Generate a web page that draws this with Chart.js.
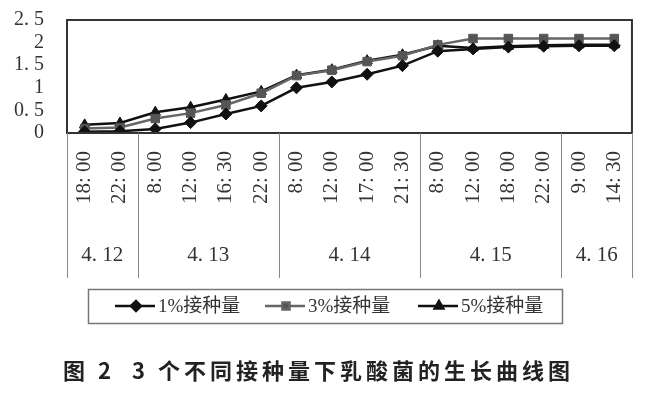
<!DOCTYPE html>
<html>
<head>
<meta charset="utf-8">
<script src="https://cdn.jsdelivr.net/npm/chart.js@4/dist/chart.umd.min.js"></script>
<style>
  html, body { margin: 0; padding: 0; background: #fff; }
  #wrap { width: 650px; height: 396px; }
</style>
</head>
<body>
<div id="wrap"><canvas id="chart" width="650" height="396"></canvas></div>
<script>
const categories = ['18: 00', '22: 00', '8: 00', '12: 00', '16: 30', '22: 00', '8: 00', '12: 00',
  '17: 00', '21: 30', '8: 00', '12: 00', '18: 00', '22: 00', '9: 00', '14: 30'];
const dates = ['4. 12', '4. 13', '4. 14', '4. 15', '4. 16'];
const dateSpans = [2, 4, 4, 4, 2];
const yTicks = [0, 0.5, 1, 1.5, 2, 2.5];

const inoc1 = [0.03, 0.04, 0.09, 0.23, 0.42, 0.6, 1.0, 1.13, 1.3, 1.49, 1.81, 1.86, 1.9, 1.92, 1.93, 1.93];
const inoc3 = [0.1, 0.12, 0.32, 0.44, 0.62, 0.88, 1.27, 1.39, 1.58, 1.71, 1.95, 2.09, 2.09, 2.09, 2.09, 2.09];
const inoc5 = [0.18, 0.22, 0.46, 0.57, 0.74, 0.92, 1.28, 1.4, 1.6, 1.73, 1.93, 1.88, 1.92, 1.94, 1.95, 1.95];

const serif = '"Liberation Serif", "Noto Sans CJK SC", serif';

const frame = {
  id: 'frame',
  afterDraw(chart) {
    const ctx = chart.ctx;
    const a = chart.chartArea;
    const x = chart.scales.x;
    ctx.save();

    // plot box
    ctx.strokeStyle = '#333';
    ctx.lineWidth = 2;
    ctx.strokeRect(a.left, a.top, a.right - a.left, a.bottom - a.top);

    // group separators and date labels under the axis
    const bottom = x.bottom;
    const step = (a.right - a.left) / categories.length;
    ctx.strokeStyle = '#888';
    ctx.lineWidth = 1;
    ctx.fillStyle = '#333';
    ctx.font = '21px ' + serif;
    ctx.textAlign = 'center';
    ctx.textBaseline = 'middle';
    let idx = 0;
    const edges = [0];
    dateSpans.forEach((n, i) => {
      const x0 = x.getPixelForValue(idx) - step / 2;
      const x1 = x.getPixelForValue(idx + n - 1) + step / 2;
      ctx.fillText(dates[i], (x0 + x1) / 2, 255);
      idx += n;
      edges.push(idx);
    });
    edges.forEach(k => {
      const px = Math.round(a.left + k * step) + 0.5;
      ctx.beginPath();
      ctx.moveTo(px, a.bottom);
      ctx.lineTo(px, bottom);
      ctx.stroke();
    });

    // legend
    ctx.strokeStyle = '#777';
    ctx.lineWidth = 1.5;
    ctx.strokeRect(88.5, 289.5, 474, 34);
    const items = [
      { x: 115, ds: chart.data.datasets[0] },
      { x: 265, ds: chart.data.datasets[1] },
      { x: 418, ds: chart.data.datasets[2] }
    ];
    const ly = 306;
    items.forEach(it => {
      const ds = it.ds;
      ctx.strokeStyle = ds.borderColor;
      ctx.lineWidth = 2.5;
      ctx.beginPath();
      ctx.moveTo(it.x, ly);
      ctx.lineTo(it.x + 40, ly);
      ctx.stroke();
      ctx.fillStyle = ds.pointBackgroundColor;
      Chart.helpers.drawPoint(ctx, {
        pointStyle: ds.pointStyle, radius: 5, borderWidth: 1, rotation: 0
      }, it.x + 21, ly);
      ctx.fillStyle = '#333';
      ctx.textAlign = 'left';
      ctx.font = '19px ' + serif;
      ctx.fillText(ds.label, it.x + 43, ly + 1);
    });

    // caption
    ctx.fillStyle = '#222';
    ctx.font = 'bold 22px "Noto Sans CJK SC", sans-serif';
    ctx.textAlign = 'left';
    ctx.letterSpacing = '4px';
    ctx.fillText('图 2', 63, 371);
    ctx.fillText('3 个不同接种量下乳酸菌的生长曲线图', 132, 371);
    ctx.restore();
  }
};

function line(label, data, color, pointColor, style) {
  return {
    label: label,
    data: data,
    borderColor: color,
    backgroundColor: pointColor,
    borderWidth: 2.5,
    pointStyle: style,
    pointRadius: 6,
    pointBorderWidth: 1,
    pointBorderColor: pointColor,
    pointBackgroundColor: pointColor,
    tension: 0
  };
}

new Chart(document.getElementById('chart'), {
  type: 'line',
  data: {
    labels: categories,
    datasets: [
      line('1%接种量', inoc1, '#111', '#111', 'rectRot'),
      line('3%接种量', inoc3, '#666', '#555', 'rect'),
      line('5%接种量', inoc5, '#111', '#111', 'triangle')
    ]
  },
  options: {
    responsive: false,
    animation: false,
    layout: { padding: { left: 0, right: 16, top: 20, bottom: 118 } },
    plugins: { legend: { display: false }, tooltip: { enabled: false } },
    scales: {
      x: {
        offset: true,
        grid: { display: false },
        border: { display: false },
        afterFit(scale) { scale.height = 145; },
        ticks: {
          autoSkip: false,
          minRotation: 90,
          maxRotation: 90,
          padding: 10,
          color: '#333',
          font: { family: serif, size: 21 }
        }
      },
      y: {
        min: 0,
        max: 2.5,
        afterFit(scale) {
          scale.width = 67;
          scale.paddingTop = 0;
          scale.paddingBottom = 0;
        },
        afterBuildTicks(scale) { scale.ticks = yTicks.map(v => ({ value: v })); },
        grid: { display: false },
        border: { display: false },
        ticks: {
          autoSkip: false,
          padding: 15,
          color: '#333',
          font: { family: serif, size: 20 },
          callback: v => String(v).replace('.', '. ')
        }
      }
    }
  },
  plugins: [frame]
});
</script>
</body>
</html>
